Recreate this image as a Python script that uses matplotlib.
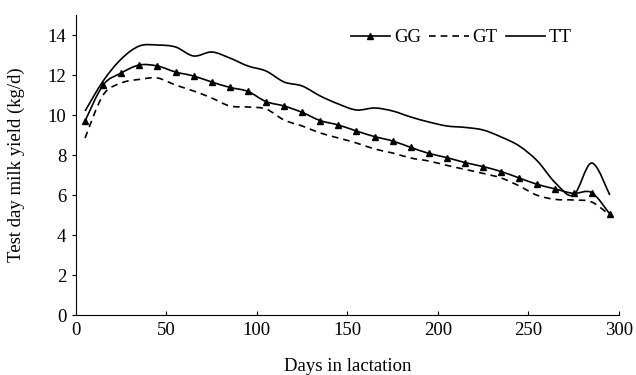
import numpy as np
import matplotlib
matplotlib.use("Agg")
import matplotlib.pyplot as plt
from matplotlib.path import Path
from matplotlib.patches import PathPatch
from matplotlib.lines import Line2D

plt.rcParams['font.family'] = ['Liberation Serif', 'DejaVu Serif']
plt.rcParams['font.size'] = 13.5

# days in lactation (test days)
days = np.arange(5, 300, 10)
gg = [9.7, 11.5, 12.1, 12.5, 12.45, 12.15, 11.95, 11.65, 11.38, 11.18,
      10.67, 10.45, 10.13, 9.72, 9.5, 9.2, 8.92, 8.7, 8.38, 8.08,
      7.87, 7.62, 7.42, 7.17, 6.85, 6.53, 6.3, 6.08, 6.12, 5.05]
gt = [8.85, 11.0, 11.6, 11.78, 11.85, 11.5, 11.2, 10.85, 10.45, 10.4,
      10.3, 9.75, 9.45, 9.1, 8.85, 8.6, 8.3, 8.1, 7.85, 7.7,
      7.48, 7.28, 7.08, 6.85, 6.45, 5.98, 5.78, 5.75, 5.65, 5.0]
tt = [10.2, 11.7, 12.8, 13.45, 13.5, 13.4, 12.95, 13.15, 12.85, 12.45,
      12.2, 11.65, 11.45, 10.95, 10.55, 10.25, 10.35, 10.2, 9.9, 9.65,
      9.45, 9.38, 9.25, 8.9, 8.45, 7.7, 6.6, 6.0, 7.6, 6.0]


def smooth_path(x, y):
    # Catmull-Rom style smoothing drawn as cubic Bezier segments (like Excel smoothed lines)
    pts = np.column_stack([x, y]).astype(float)
    n = len(pts)
    verts = [pts[0]]
    codes = [Path.MOVETO]
    for i in range(n - 1):
        p0 = pts[i - 1] if i > 0 else pts[i]
        p1 = pts[i]
        p2 = pts[i + 1]
        p3 = pts[i + 2] if i + 2 < n else pts[i + 1]
        c1 = p1 + (p2 - p0) / 6.0
        c2 = p2 - (p3 - p1) / 6.0
        verts += [c1, c2, p2]
        codes += [Path.CURVE4] * 3
    return Path(verts, codes)


fig = plt.figure(figsize=(6.36, 3.75), dpi=100)
ax = fig.add_axes([0.1195, 0.16, 0.8535, 0.80])

ax.add_patch(PathPatch(smooth_path(days, gg), fill=False, color='black', lw=1.2))
ax.plot(days, gg, linestyle='none', marker='^', color='black', markersize=5)
ax.add_patch(PathPatch(smooth_path(days, gt), fill=False, color='black', lw=1.2,
                       linestyle=(0, (4, 3))))
ax.add_patch(PathPatch(smooth_path(days, tt), fill=False, color='black', lw=1.2))

ax.set_xlim(0, 300)
ax.set_ylim(0, 15)
ax.set_xticks(range(0, 301, 50))
ax.set_yticks(range(0, 15, 2))
ax.spines['top'].set_visible(False)
ax.spines['right'].set_visible(False)
ax.tick_params(axis='x', direction='in', length=3, pad=5)
ax.tick_params(axis='y', direction='out', length=3, pad=4)

ax.set_xlabel('Days in lactation', labelpad=14)
ax.set_ylabel('Test day milk yield (kg/d)', labelpad=16)

handles = [
    Line2D([], [], color='black', lw=1.2, marker='^', markersize=4),
    Line2D([], [], color='black', lw=1.2, linestyle=(0, (4, 3))),
    Line2D([], [], color='black', lw=1.2),
]
ax.legend(handles, ['GG', 'GT', 'TT'], loc='center', bbox_to_anchor=(0.71, 0.925),
          ncol=3, frameon=False, handlelength=2.1, handletextpad=0.2,
          columnspacing=0.45, markerfirst=True, numpoints=1, borderpad=0)

fig.savefig('out.png', dpi=100)
